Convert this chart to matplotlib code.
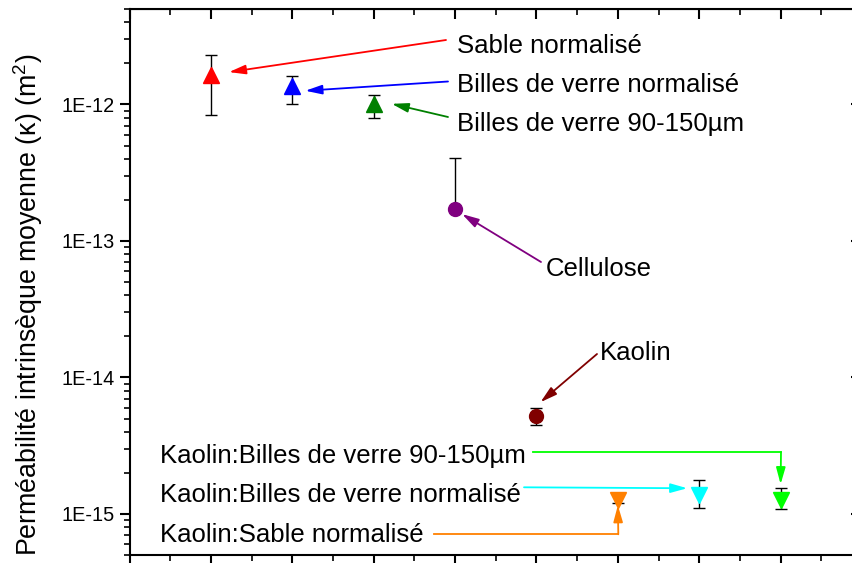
import numpy as np
import matplotlib
matplotlib.use("Agg")
import matplotlib.pyplot as plt
import matplotlib.transforms as mtransforms

plt.rcParams['font.family'] = ['Liberation Sans', 'DejaVu Sans']
plt.rcParams['mathtext.fontset'] = 'custom'
plt.rcParams['mathtext.rm'] = 'Liberation Sans'
plt.rcParams['mathtext.it'] = 'Liberation Sans'

# donnees (permeabilite moyenne et barres d'erreur, m2)
materiaux = ["Sable normalisé", "Billes de verre normalisé", "Billes de verre 90-150µm",
             "Cellulose", "Kaolin", "Kaolin:Sable normalisé",
             "Kaolin:Billes de verre normalisé", "Kaolin:Billes de verre 90-150µm"]
pos_x = [1, 2, 3, 4, 5, 6, 7, 8]
kappa = [1.64e-12, 1.37e-12, 1.01e-12, 1.71e-13, 5.2e-15, 1.26e-15, 1.37e-15, 1.26e-15]
err_haut = [2.31e-12, 1.61e-12, 1.17e-12, 4.03e-13, 5.95e-15, 1.43e-15, 1.77e-15, 1.56e-15]
err_bas = [0.84e-12, 1.0e-12, 0.79e-12, 1.71e-13, 4.47e-15, 1.20e-15, 1.11e-15, 1.08e-15]
couleurs = ["#FF0000", "#0000FF", "#008000", "#800080", "#800000", "#FF8000", "#00FFFF", "#00FF00"]
marqueurs = ["^", "^", "^", "o", "o", "v", "v", "v"]

W, H = 852, 563
fig = plt.figure(figsize=(W / 100, H / 100), dpi=100)
# axe x de 0 a 9 : le bord droit depasse l'image (comme l'original, coupe)
ax_l, ax_r, ax_t, ax_b = 129.6, 862.0, 9.0, 555.0
ax = fig.add_axes([ax_l / W, 1 - ax_b / H, (ax_r - ax_l) / W, (ax_b - ax_t) / H])

def px(x, y):
    # pixels de l'image -> fraction des axes
    return ((x - ax_l) / (ax_r - ax_l), (ax_b - y) / (ax_b - ax_t))

for i in range(len(pos_x)):
    y = kappa[i]
    yerr = [[y - err_bas[i]], [err_haut[i] - y]]
    ms = 11.5 if marqueurs[i] in "^v" else 10
    ax.errorbar([pos_x[i]], [y], yerr=yerr, fmt=marqueurs[i], color=couleurs[i],
                ms=ms, mec=couleurs[i], ecolor="black", elinewidth=1.0,
                capsize=4, capthick=1.0, zorder=3)

ax.set_yscale("log")
ax.set_xlim(0, 9)
ax.set_ylim(5e-16, 5e-12)
ax.set_xticks(np.arange(0, 10, 1))
ax.set_xticks(np.arange(0.5, 9, 1), minor=True)
ax.set_xticklabels([])
ax.set_yticks([1e-15, 1e-14, 1e-13, 1e-12])
ax.set_yticklabels(["1E-15", "1E-14", "1E-13", "1E-12"])
for s in ax.spines.values():
    s.set_linewidth(1.5)
ax.tick_params(which="major", direction="out", length=7, width=1.5, labelsize=14.3)
ax.tick_params(which="minor", direction="out", length=4.5, width=1.2)

# axes haut et droit : graduations vers l'interieur
sx = ax.secondary_xaxis("top")
sx.set_xticks(np.arange(0, 10, 1))
sx.set_xticks(np.arange(0.5, 9, 1), minor=True)
sx.set_xticklabels([])
sx.tick_params(which="major", direction="in", length=7, width=1.5)
sx.tick_params(which="minor", direction="in", length=4.5, width=1.2)
sy = ax.secondary_yaxis("right")
sy.set_yticks([1e-15, 1e-14, 1e-13, 1e-12])
sy.set_yticklabels([])
sy.tick_params(which="major", direction="in", length=8, width=1.5)
sy.tick_params(which="minor", direction="in", length=4.5, width=1.2)

fig.text(28 / W, 1 - 305 / H, "Perméabilité intrinsèque moyenne (κ) (m$^2$)",
         rotation=90, ha="center", va="center", fontsize=19.3)

# etiquettes : (texte, x gauche px, ligne de base px)
etiquettes = [(0, 457, 53), (1, 457, 92), (2, 457, 131), (3, 546, 276), (4, 600, 360),
              (7, 160, 463), (6, 160, 502), (5, 160, 542)]
for idx, xt, yt in etiquettes:
    fx, fy = px(xt, yt)
    ax.text(fx, fy, materiaux[idx], transform=ax.transAxes, ha="left",
            va="baseline", fontsize=18.5)

fleche = "-|>,head_length=0.5,head_width=0.14"

def pointe(i, dx, dy):
    # pointe de fleche decalee (pixels) par rapport au point de donnees
    return mtransforms.offset_copy(ax.transData, fig, x=dx, y=dy, units="dots")

# fleches droites : (indice, depart px, decalage pointe px)
fleches = [(0, (446, 40), (18, 3)), (1, (448, 81.5), (13, -5)), (2, (448, 117), (18, 0)),
           (3, (541, 262), (7, -5)), (4, (597, 354), (4, 14))]
for i, (sxp, syp), (dx, dy) in fleches:
    ax.annotate("", xy=(pos_x[i], kappa[i]), xycoords=pointe(i, dx, dy),
                xytext=px(sxp, syp), textcoords="axes fraction",
                arrowprops=dict(arrowstyle=fleche, color=couleurs[i], lw=1.3,
                                mutation_scale=20, shrinkA=0, shrinkB=0))

# fleches coudees pour les melanges
# Kaolin:Billes 90-150 (lime) : horizontale puis verticale vers le bas
x0, y0 = px(533, 452)
x1, y1 = px(781, 452)
ax.plot([x0, x1], [y0, y1], color=couleurs[7], lw=1.3, transform=ax.transAxes)
ax.annotate("", xy=(pos_x[7], kappa[7]), xycoords=pointe(7, 0, 16),
            xytext=(x1, y1), textcoords="axes fraction",
            arrowprops=dict(arrowstyle=fleche, color=couleurs[7], lw=1.3,
                            mutation_scale=20, shrinkA=0, shrinkB=0))
# Kaolin:Billes normalise (cyan)
ax.annotate("", xy=(pos_x[6], kappa[6]), xycoords=pointe(6, -12, 7),
            xytext=px(524, 487.3), textcoords="axes fraction",
            arrowprops=dict(arrowstyle=fleche, color=couleurs[6], lw=1.3,
                            mutation_scale=20, shrinkA=0, shrinkB=0))
# Kaolin:Sable normalise (orange) : horizontale puis verticale vers le haut
x0, y0 = px(434, 534.3)
x1, y1 = px(618.3, 534.3)
ax.plot([x0, x1], [y0, y1], color=couleurs[5], lw=1.3, transform=ax.transAxes)
ax.annotate("", xy=(pos_x[5], kappa[5]), xycoords=pointe(5, 0, -5),
            xytext=(x1, y1), textcoords="axes fraction",
            arrowprops=dict(arrowstyle=fleche, color=couleurs[5], lw=1.3,
                            mutation_scale=20, shrinkA=0, shrinkB=0))

fig.savefig("out.png", dpi=100)
